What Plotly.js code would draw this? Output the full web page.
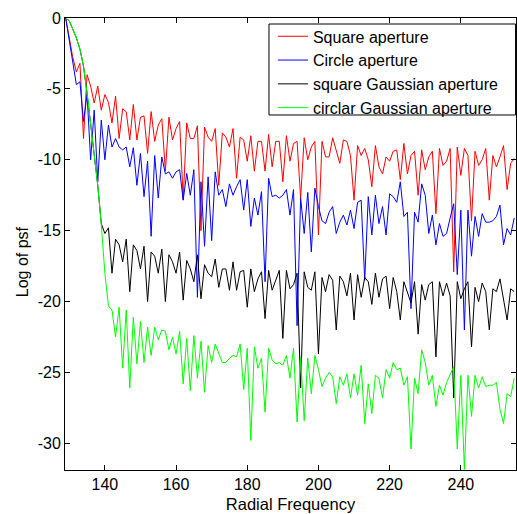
<!DOCTYPE html>
<html>
<head>
<meta charset="utf-8">
<script src="https://cdn.plot.ly/plotly-3.0.1.min.js"></script>
<style>html,body{margin:0;padding:0;background:#fff;}#chart{width:517px;height:514px;}</style>
</head>
<body>
<div id="chart"></div>
<script>
// Radial frequency starts at 129, one sample per unit, up to 255
const xStart = 129;

const seriesNames = ["Square aperture", "Circle aperture", "square Gaussian aperture", "circlar Gaussian aperture"];

const squareAperture = [
  0, -1.4, -2.8, -3.8, -3.2, -8.5, -4.0, -4.8, -6.0, -4.8,
  -6.5, -5.4, -5.95, -7.4, -5.5, -8.5, -6.4, -6.6, -8.6, -6.1,
  -8.6, -7.0, -6.9, -9.55, -6.6, -8.7, -7.55, -7.1, -10.8, -7.0,
  -8.6, -7.8, -7.3, -12.8, -7.4, -8.5, -8.5, -7.6, -15.0, -7.7,
  -8.4, -8.7, -7.8, -11.8, -8.1, -8.4, -9.1, -7.8, -11.3, -8.4,
  -8.6, -10.1, -8.3, -10.8, -8.7, -8.7, -10.8, -8.2, -10.5, -8.7,
  -8.7, -11.55, -8.3, -10.1, -8.85, -8.7, -12.7, -8.45, -10.0, -9.1,
  -8.7, -15.3, -8.7, -9.8, -9.8, -8.45, -9.4, -10.25, -8.6, -8.7,
  -9.7, -12.85, -9.0, -9.7, -9.2, -10.0, -11.9, -9.0, -10.5, -11.0,
  -9.8, -10.1, -9.4, -9.3, -11.4, -8.85, -11.0, -9.7, -9.4, -12.5,
  -9.3, -10.7, -9.8, -9.4, -13.8, -9.2, -10.4, -10.1, -9.2, -17.9,
  -9.1, -11.1, -9.2, -9.7, -14.3, -9.4, -10.4, -10.0, -9.2, -12.85,
  -9.7, -10.5, -9.8, -9.0, -12.1, -10.25, -9.9
];

const circleAperture = [
  0, -1.5, -3.0, -4.7, -4.5, -7.3, -5.4, -10.0, -6.5, -11.55,
  -7.2, -10.0, -7.55, -9.1, -8.5, -9.1, -9.3, -9.1, -10.5, -9.15,
  -11.8, -9.55, -12.6, -10.1, -15.4, -9.7, -12.7, -9.8, -11.0, -10.85,
  -11.3, -10.85, -10.7, -12.85, -10.96, -12.5, -10.7, -19.7, -11.55, -16.1,
  -11.2, -15.7, -10.85, -12.5, -12.1, -13.3, -11.7, -12.5, -11.9, -11.4,
  -13.55, -11.4, -14.7, -12.7, -13.9, -12.25, -18.6, -11.3, -12.6, -12.5,
  -12.7, -12.5, -12.1, -13.9, -12.1, -21.7, -12.7, -15.2, -12.3, -16.5,
  -12.0, -13.3, -14.3, -14.5, -13.7, -13.3, -15.2, -14.4, -13.9, -14.6,
  -13.55, -14.85, -13.0, -12.85, -18.5, -12.6, -15.3, -12.5, -14.5, -13.3,
  -15.3, -12.4, -12.6, -13.0, -11.55, -14.0, -13.7, -20.5, -13.7, -14.4,
  -11.7, -12.5, -15.2, -13.9, -16.0, -14.5, -15.4, -15.2, -14.1, -13.1,
  -18.1, -13.55, -22.0, -13.55, -16.8, -14.0, -15.4, -13.8, -14.4, -14.4,
  -14.3, -14.0, -13.2, -16.0, -14.85, -15.3, -14.1
];

const squareGaussian = [
  0, -0.2, -0.8, -1.4, -2.2, -3.4, -5.3, -7.5, -9.9, -11.8,
  -14.5, -15.2, -14.8, -18.0, -15.6, -16.0, -17.2, -15.6, -19.3, -16.0,
  -16.4, -17.7, -16.1, -20.0, -16.5, -16.8, -18.0, -16.3, -20.0, -16.7,
  -17.2, -18.0, -16.5, -19.9, -17.1, -17.7, -18.6, -16.7, -19.8, -17.4,
  -18.0, -18.25, -17.0, -19.0, -17.7, -17.7, -19.2, -17.2, -19.2, -17.9,
  -17.8, -20.4, -17.7, -19.3, -18.4, -17.9, -21.2, -17.8, -19.2, -18.5,
  -17.8, -22.6, -17.8, -19.1, -18.8, -18.0, -26.1, -17.9, -19.0, -19.2,
  -17.9, -23.7, -18.3, -19.3, -18.1, -18.5, -22.0, -18.2, -18.6, -19.6,
  -18.0, -21.3, -18.1, -19.7, -18.3, -18.6, -20.2, -18.0, -19.7, -18.4,
  -18.2, -20.5, -18.3, -19.3, -21.3, -18.6, -19.3, -20.1, -18.6, -22.3,
  -18.8, -19.9, -18.8, -18.6, -23.9, -18.6, -19.6, -18.7, -19.6, -26.8,
  -18.6, -19.8, -19.1, -18.6, -23.2, -19.0, -20.0, -18.7, -19.3, -22.0,
  -19.1, -19.3, -18.4, -19.8, -21.3, -19.1, -19.3
];

const circularGaussian = [
  0, -0.2, -0.8, -1.4, -2.2, -3.4, -5.3, -7.5, -9.9, -11.8,
  -14.6, -18.0, -20.3, -20.6, -22.5, -20.4, -24.7, -20.6, -26.1, -21.1,
  -24.4, -21.4, -24.3, -21.8, -23.8, -21.8, -22.7, -22.0, -22.1, -23.4,
  -22.5, -23.7, -22.1, -25.8, -22.6, -26.3, -22.4, -25.4, -22.8, -26.4,
  -23.1, -24.3, -23.0, -23.6, -24.3, -24.3, -24.0, -23.8, -23.9, -23.0,
  -26.2, -23.3, -29.8, -23.2, -24.7, -24.0, -27.8, -23.3, -24.1, -24.4,
  -24.3, -24.5, -23.8, -25.4, -23.3, -28.5, -23.9, -28.4, -24.0, -26.5,
  -23.8, -24.8, -26.0, -25.4, -25.0, -25.3, -27.2, -25.3, -25.9, -25.1,
  -26.8, -25.1, -26.6, -24.5, -28.6, -25.8, -27.9, -25.2, -25.4, -26.8,
  -24.8, -25.4, -24.3, -24.8, -24.7, -25.9, -25.3, -30.4, -25.4, -26.5,
  -23.4, -24.3, -25.9, -25.2, -27.4, -25.9, -26.6, -25.7, -25.1, -24.6,
  -30.4, -25.2, -31.85, -25.2, -28.1, -25.2, -26.1, -25.3, -26.0, -25.9,
  -25.9, -25.7, -27.6, -28.6, -26.5, -26.7, -25.4
];

const xTickVals = [140, 160, 180, 200, 220, 240];
const xTickText = ["140", "160", "180", "200", "220", "240"];
const yTickVals = [0, -5, -10, -15, -20, -25, -30];
const yTickText = ["0", "-5", "-10", "-15", "-20", "-25", "-30"];

const xValues = squareAperture.map((_, i) => xStart + i);

const colors = ["#ff0000", "#0000ff", "#000000", "#00ff00"];
const allSeries = [squareAperture, circleAperture, squareGaussian, circularGaussian];

const traces = allSeries.map((ys, k) => ({
  x: xValues,
  y: ys,
  type: "scatter",
  mode: "lines",
  name: seriesNames[k],
  line: { color: colors[k], width: 1 }
}));

const font = { family: "Liberation Sans, Arial, sans-serif", size: 16, color: "#000" };

const layout = {
  width: 517,
  height: 514,
  margin: { l: 65, r: 1, t: 18, b: 44 },
  paper_bgcolor: "#fff",
  plot_bgcolor: "#fff",
  font: font,
  showlegend: true,
  legend: {
    x: 0.461, y: 0.997, xanchor: "left", yanchor: "top",
    bgcolor: "rgba(0,0,0,0)", borderwidth: 0,
    font: font, tracegroupgap: 0
  },
  shapes: [{
    type: "rect", xref: "paper", yref: "paper",
    x0: 0.4523, x1: 0.999, y0: 0.7854, y1: 0.9867,
    line: { color: "#000", width: 1 }, fillcolor: "#fff", layer: "above"
  }],
  xaxis: {
    range: [128.8, 255.5],
    tickmode: "array", tickvals: xTickVals, ticktext: xTickText,
    ticks: "inside", ticklen: 5, tickcolor: "#000", tickwidth: 1,
    showline: true, linecolor: "#000", linewidth: 1, mirror: "ticks",
    showgrid: false, zeroline: false,
    tickfont: font,
    title: { text: "Radial Frequency", font: { family: font.family, size: 16.5, color: "#000" }, standoff: 6 }
  },
  yaxis: {
    range: [-31.88, 0],
    tickmode: "array", tickvals: yTickVals, ticktext: yTickText,
    ticks: "inside", ticklen: 5, tickcolor: "#000", tickwidth: 1,
    showline: true, linecolor: "#000", linewidth: 1, mirror: "ticks",
    showgrid: false, zeroline: false,
    tickfont: font,
    title: { text: "" }
  },
  annotations: [{
    text: "Log of psf", textangle: -90, showarrow: false,
    xref: "paper", yref: "paper", x: -0.095, y: 0.46,
    xanchor: "center", yanchor: "middle", font: font
  }]
};

Plotly.newPlot("chart", traces, layout, { displayModeBar: false, staticPlot: true });
</script>
</body>
</html>
